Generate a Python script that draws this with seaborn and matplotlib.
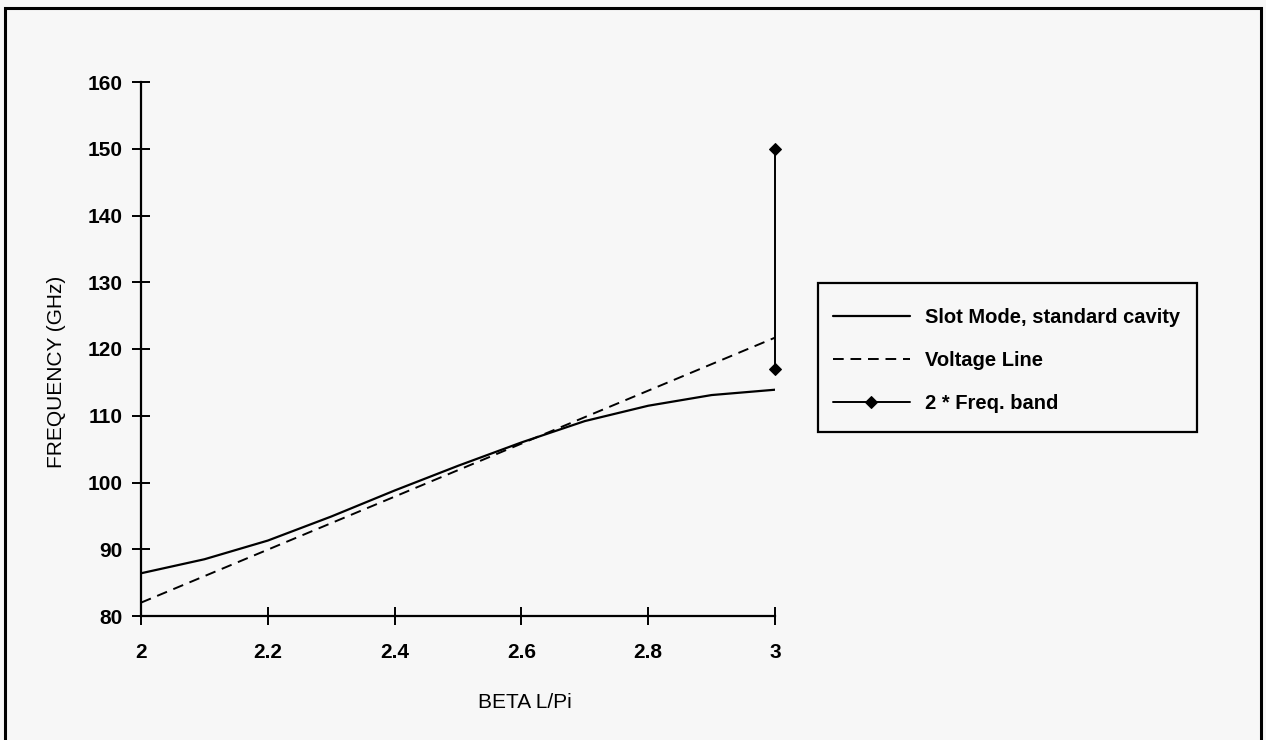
import matplotlib
matplotlib.use("Agg")
import matplotlib.pyplot as plt
import seaborn as sns
from matplotlib.patches import Rectangle

# Slot-mode dispersion curve (normalised phase vs frequency)
beta = [2.0, 2.1, 2.2, 2.3, 2.4, 2.5, 2.6, 2.7, 2.8, 2.9, 3.0]
slot_mode = [86.4, 88.5, 91.3, 94.9, 98.8, 102.5, 106.0, 109.2, 111.5, 113.1, 113.9]

# Beam voltage line
voltage_beta = [2.0, 3.0]
voltage_freq = [82.0, 121.7]

# Doubled frequency band at the end of the range
band_beta = [3.0, 3.0]
band_freq = [117.0, 150.0]

x_ticks = [2.0, 2.2, 2.4, 2.6, 2.8, 3.0]
x_tick_labels = ["2", "2.2", "2.4", "2.6", "2.8", "3"]
y_ticks = [80, 90, 100, 110, 120, 130, 140, 150, 160]
y_tick_labels = ["80", "90", "100", "110", "120", "130", "140", "150", "160"]

sns.set_theme(style="white")
plt.rcParams["font.family"] = ["Liberation Sans", "DejaVu Sans"]

bg = "#f7f7f7"
fig = plt.figure(figsize=(12.66, 7.40), dpi=100, facecolor=bg)
ax = fig.add_axes([141 / 1266, 1 - 616 / 740, 634 / 1266, 534 / 740])
ax.set_facecolor(bg)

sns.lineplot(x=beta, y=slot_mode, ax=ax, color="black", linewidth=1.6,
             sort=False, estimator=None, label="Slot Mode, standard cavity")
sns.lineplot(x=voltage_beta, y=voltage_freq, ax=ax, color="black", linewidth=1.4,
             linestyle=(0, (5.5, 3.5)), sort=False, estimator=None,
             label="Voltage Line")
sns.lineplot(x=band_beta, y=band_freq, ax=ax, color="black", linewidth=1.4,
             marker="D", markersize=6, markeredgecolor="black", clip_on=False,
             sort=False, estimator=None, label="2 * Freq. band")

ax.set_xlim(2.0, 3.0)
ax.set_ylim(80, 160)
ax.set_xticks(x_ticks)
ax.set_xticklabels(x_tick_labels)
ax.set_yticks(y_ticks)
ax.set_yticklabels(y_tick_labels)

for side in ("top", "right"):
    ax.spines[side].set_visible(False)
for side in ("left", "bottom"):
    ax.spines[side].set_color("black")
    ax.spines[side].set_linewidth(1.6)

ax.tick_params(axis="both", which="major", bottom=True, left=True,
               direction="inout", length=13, width=1.4,
               color="black", labelcolor="black")
ax.tick_params(axis="x", pad=13)
ax.tick_params(axis="y", pad=7)
for lab in ax.get_xticklabels() + ax.get_yticklabels():
    lab.set_fontweight("bold")
    lab.set_fontsize(15)

ax.set_xlabel("")
ax.set_ylabel("")
fig.text(525 / 1266, 1 - 702 / 740, "BETA L/Pi", ha="center", va="center",
         fontsize=15, color="black")
fig.text(57 / 1266, 1 - 372 / 740, "FREQUENCY (GHz)", ha="center", va="center",
         rotation=90, fontsize=15, color="black")

leg = ax.legend(loc="upper left", bbox_to_anchor=(833 / 1266, 1 - 308 / 740),
                bbox_transform=fig.transFigure, borderaxespad=0, borderpad=0,
                frameon=False, prop={"weight": "bold", "size": 14.5},
                handlelength=3.8, handletextpad=0.75, labelspacing=1.2)
for txt in leg.get_texts():
    txt.set_color("black")

# Legend box
fig.patches.append(Rectangle((818 / 1266, 1 - 432 / 740), 379 / 1266, 149 / 740,
                             transform=fig.transFigure, fill=False,
                             edgecolor="black", linewidth=1.6))

# Outer frame around the whole chart (open at the lower edge)
fig.patches.append(Rectangle((5 / 1266, -0.05), 1256 / 1266, 1 - 8 / 740 + 0.05,
                             transform=fig.transFigure, fill=False,
                             edgecolor="black", linewidth=2.2))

fig.savefig("out.png", dpi=100, facecolor=bg)
